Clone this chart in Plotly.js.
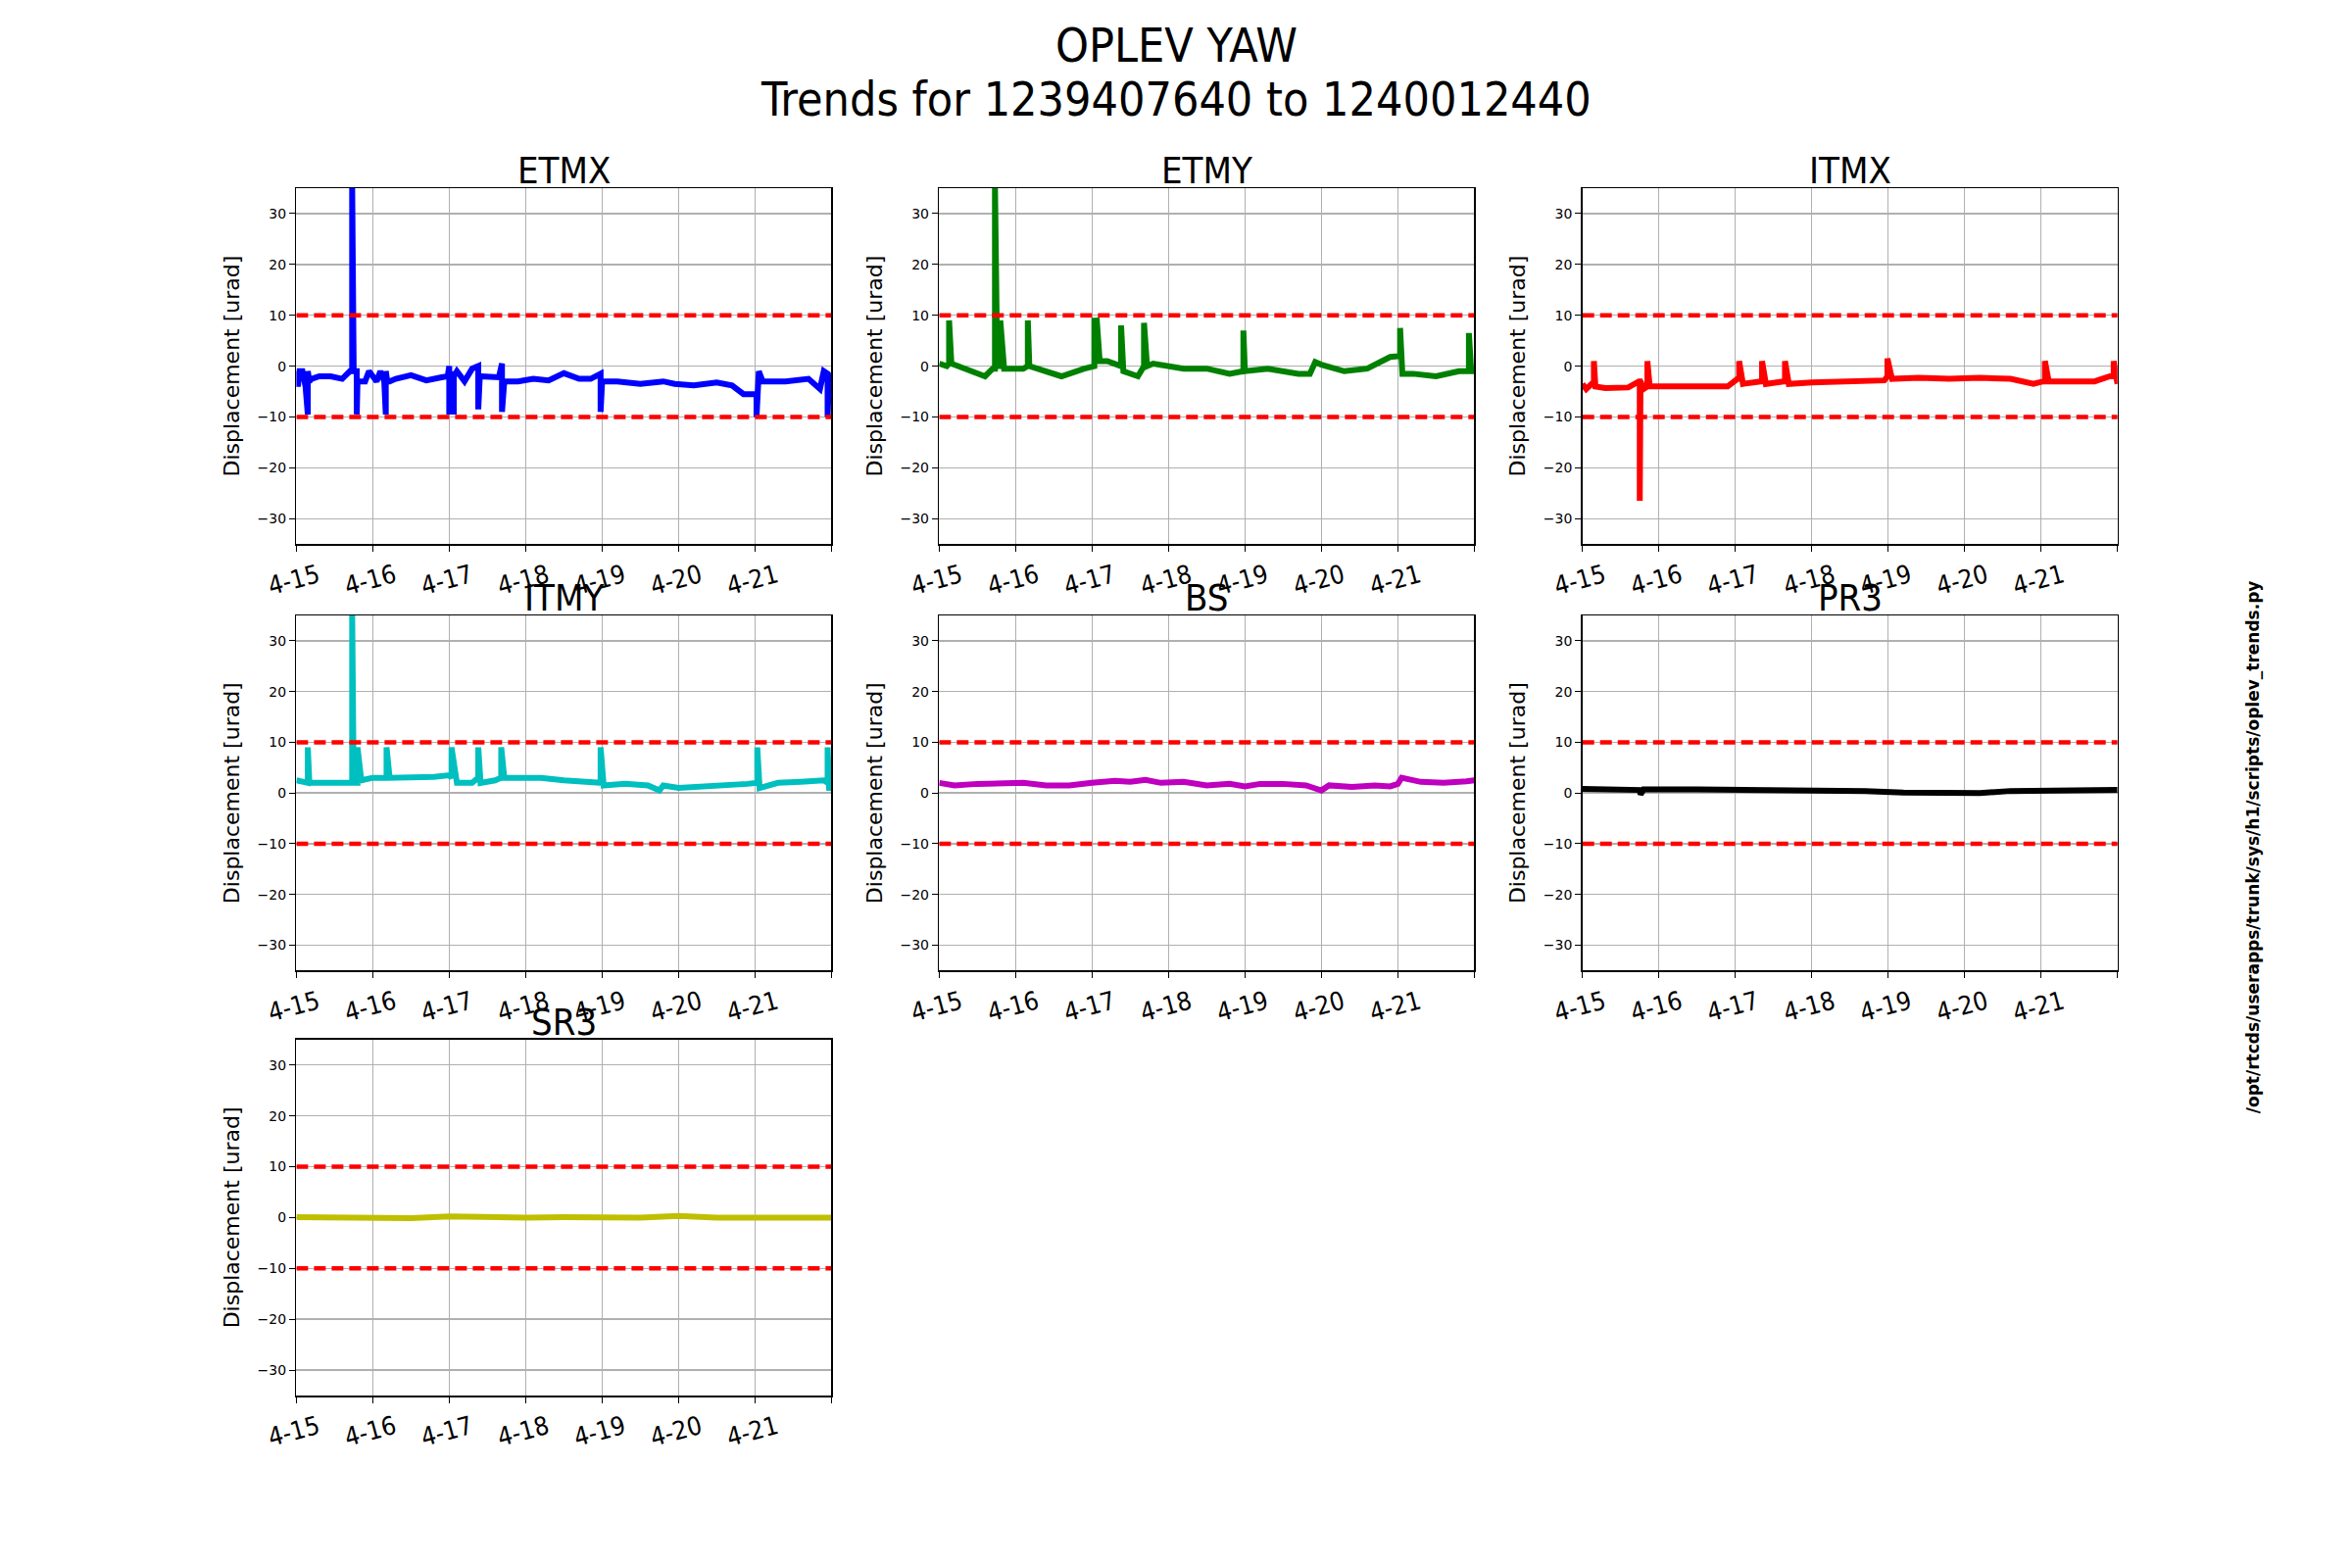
<!DOCTYPE html>
<html>
<head>
<meta charset="utf-8">
<script src="https://cdn.plot.ly/plotly-3.0.1.min.js"></script>
<style>
  html, body { margin: 0; padding: 0; background: #fff; }
  #chart { width: 2400px; height: 1600px; }
</style>
</head>
<body>
<div id="chart"></div>
<script>
// time in days since 4-15 00:00, values in urad
var dayTicks = [0, 1, 2, 3, 4, 5, 6, 7];
var dayLabels = ['4-15', '4-16', '4-17', '4-18', '4-19', '4-20', '4-21', ''];
var yTicks = [-30, -20, -10, 0, 10, 20, 30];
var thresholds = [10, -10];

var etmxT = [0,0.02,0.04,0.08,0.12,0.15,0.15,0.17,0.2,0.3,0.45,0.6,0.7,0.73,0.73,0.75,0.79,0.79,0.8,0.9,0.95,1.05,1.1,1.15,1.17,1.17,1.19,1.22,1.3,1.5,1.7,1.9,1.98,2.0,2.0,2.03,2.06,2.06,2.1,2.2,2.3,2.38,2.38,2.4,2.5,2.65,2.69,2.69,2.72,2.9,3.1,3.3,3.5,3.7,3.85,3.98,3.98,4.0,4.2,4.5,4.8,4.95,5.2,5.5,5.7,5.85,6.02,6.02,6.05,6.1,6.4,6.7,6.85,6.9,6.95,6.95,6.97,7.0];
var etmxV = [-1,-4,-1,-1,-4,-9.5,-1,-3,-2.5,-2,-2,-2.5,-1,-1,36,-1,-1,-9.5,-3,-3,-1,-3,-1,-3,-9.5,-1,-3,-3,-2.5,-1.8,-2.8,-2.2,-2,0,-9.5,-1,-9.5,-2,-1,-3,-0.5,0,-8.5,-2,-2,-2.2,0.5,-9,-3,-3,-2.5,-2.8,-1.4,-2.5,-2.5,-1.5,-9,-3,-3,-3.5,-3,-3.5,-3.8,-3.2,-3.8,-5.5,-5.5,-10,-1,-3,-3,-2.5,-4.5,-1,-1.5,-10,-1.5,-3];

var etmyT = [0,0.1,0.13,0.13,0.16,0.4,0.6,0.7,0.73,0.73,0.76,0.8,0.8,0.85,1.1,1.16,1.16,1.18,1.3,1.6,1.9,2.03,2.03,2.06,2.06,2.1,2.2,2.38,2.38,2.41,2.6,2.68,2.68,2.72,2.8,3.2,3.5,3.8,3.98,3.98,4.0,4.3,4.7,4.85,4.92,5.0,5.3,5.6,5.9,6.03,6.03,6.06,6.2,6.5,6.8,6.93,6.93,6.96,7.0];
var etmyV = [0.5,0,0.5,9,0.5,-1,-2,-0.5,-0.5,36,0,0,9,-0.5,-0.5,0,9,0,-0.5,-2,-0.5,0,9.5,1,9.5,1,1,0,8,-1,-2,0,8.5,0,0.5,-0.5,-0.5,-1.5,-1,7,-1,-0.5,-1.5,-1.5,0.8,0.3,-1,-0.5,1.8,2,7.5,-1.5,-1.5,-2,-1,-1,6.5,-1,-1];

var itmxT = [0,0.05,0.12,0.15,0.15,0.17,0.3,0.6,0.74,0.75,0.75,0.76,0.8,0.85,0.85,0.88,1.0,1.3,1.6,1.9,2.03,2.05,2.05,2.1,2.33,2.35,2.35,2.4,2.63,2.65,2.65,2.7,3.0,3.3,3.6,3.95,3.99,3.99,4.05,4.4,4.8,5.2,5.6,5.9,6.03,6.05,6.05,6.1,6.4,6.7,6.9,6.95,6.95,7.0];
var itmxV = [-3.5,-4.5,-3.5,-3.5,1,-4,-4.3,-4.2,-3,-3,-26.5,-3,-4.5,-4,1,-4,-4,-4,-3.8,-4,-2.5,-2.5,1,-3.5,-3,-3,1,-3.5,-3,-3,1,-3.5,-3.2,-3,-3,-2.8,-2,1.5,-2.5,-2.3,-2.5,-2.3,-2.5,-3.5,-3,-3,1,-3,-3,-3,-2,-2,1,-3.5];

var itmyT = [0,0.1,0.15,0.15,0.17,0.4,0.7,0.73,0.73,0.75,0.8,0.8,0.85,1.0,1.18,1.18,1.22,1.5,1.8,2.0,2.03,2.03,2.1,2.3,2.38,2.38,2.41,2.6,2.68,2.68,2.72,2.9,3.2,3.5,3.8,3.98,3.98,4.02,4.3,4.6,4.75,4.8,5.0,5.3,5.6,5.9,6.03,6.03,6.06,6.3,6.6,6.9,6.95,6.95,6.97,7.0];
var itmyV = [2.5,2,2,9,2,2,2,2,36,2,2,9,2.5,3,3,9,3,3,3.2,3.5,3,9,2,2,3,9,2,2.5,3,9,3,3,3,2.5,2.2,2,9,1.5,1.8,1.5,0.5,1.5,1,1.2,1.5,1.8,2,9,1,2,2.2,2.5,2,9,0.5,2.5];

var bsT = [0,0.2,0.5,0.8,1.1,1.4,1.7,2.0,2.3,2.5,2.7,2.9,3.2,3.5,3.8,4.0,4.2,4.5,4.8,4.9,5.0,5.1,5.4,5.7,5.9,6.0,6.05,6.3,6.6,6.9,7.0];
var bsV = [2,1.5,1.8,1.8,2,1.5,1.5,2,2.4,2.2,2.6,2,2.2,1.5,1.8,1.3,1.8,1.8,1.5,1,0.5,1.5,1.2,1.5,1.3,1.8,3,2.2,2,2.3,2.5];

var pr3T = [0,0.5,0.75,0.76,0.8,1.5,2.5,3.2,3.7,4.2,4.8,5.2,5.6,6.0,6.5,7.0];
var pr3V = [0.8,0.8,0.6,-0.3,0.7,0.7,0.6,0.5,0.4,0.1,0.1,0,0.4,0.5,0.7,0.6];

var sr3T = [0,0.5,1.0,1.5,2.0,2.5,3.0,3.5,4.0,4.5,5.0,5.5,6.0,6.5,7.0];
var sr3V = [0.1,0,0.1,-0.1,0.2,0,0,0.1,0.1,0,0.3,0,0,-0.1,0];

var names = ['ETMX', 'ETMY', 'ITMX', 'ITMY', 'BS', 'PR3', 'SR3'];
var colors = ['#0000ff', '#008000', '#ff0000', '#00bfbf', '#bf00bf', '#000000', '#bfbf00'];
var timesList = [etmxT, etmyT, itmxT, itmyT, bsT, pr3T, sr3T];
var valuesList = [etmxV, etmyV, itmxV, itmyV, bsV, pr3V, sr3V];

var xDomains = [[0.126, 0.3535], [0.3993, 0.6268], [0.6728, 0.9003]];
var yDomains = [[0.653, 0.88], [0.381, 0.6075], [0.11, 0.337]];

var data = [];
var layout = {
  width: 2400, height: 1600,
  margin: {l: 0, r: 0, t: 0, b: 0},
  paper_bgcolor: '#fff', plot_bgcolor: '#fff',
  showlegend: false,
  font: {family: 'DejaVu Sans', color: '#000'},
  annotations: [],
  shapes: []
};

// figure title, two lines
var titleFont = {size: 48, family: 'DejaVu Sans Condensed, DejaVu Sans'};
layout.annotations.push({
  text: 'OPLEV YAW', xref: 'paper', yref: 'paper', x: 0.5, y: 0.971,
  xanchor: 'center', yanchor: 'middle', showarrow: false, font: titleFont
});
layout.annotations.push({
  text: 'Trends for 1239407640 to 1240012440', xref: 'paper', yref: 'paper', x: 0.5, y: 0.937,
  xanchor: 'center', yanchor: 'middle', showarrow: false, font: titleFont
});
// script path on the right
layout.annotations.push({
  text: '<b>/opt/rtcds/userapps/trunk/sys/h1/scripts/oplev_trends.py</b>',
  xref: 'paper', yref: 'paper', x: 0.963, y: 0.46, textangle: -90,
  showarrow: false, font: {size: 17}
});

for (var i = 0; i < names.length; i++) {
  var row = Math.floor(i / 3), col = i % 3;
  var n = i + 1;
  var xa = 'x' + (n === 1 ? '' : n), ya = 'y' + (n === 1 ? '' : n);
  var xKey = 'xaxis' + (n === 1 ? '' : n), yKey = 'yaxis' + (n === 1 ? '' : n);

  data.push({
    x: timesList[i], y: valuesList[i], xaxis: xa, yaxis: ya,
    type: 'scatter', mode: 'lines',
    line: {color: colors[i], width: 6}
  });
  thresholds.forEach(function (th) {
    data.push({
      x: [0, 7], y: [th, th], xaxis: xa, yaxis: ya,
      type: 'scatter', mode: 'lines',
      line: {color: '#ff0000', width: 4.5, dash: '12px,6px'}
    });
  });

  layout[xKey] = {
    domain: xDomains[col], anchor: ya, range: [0, 7],
    tickvals: dayTicks, ticktext: dayLabels, tickangle: -15,
    tickfont: {size: 26, family: 'DejaVu Sans Condensed, DejaVu Sans'},
    ticklabelshift: 22, ticklabelstandoff: 0,
    ticks: 'outside', ticklen: 6, tickcolor: '#000',
    showgrid: true, gridcolor: '#b0b0b0', gridwidth: 1.5,
    showline: true, linecolor: '#000', linewidth: 1.5, mirror: true,
    zeroline: false
  };
  layout[yKey] = {
    domain: yDomains[row], anchor: xa, range: [-35, 35],
    tickvals: yTicks, ticktext: yTicks.map(function (v) { return v < 0 ? '\u2212' + (-v) : String(v); }),
    tickfont: {size: 14},
    ticks: 'outside', ticklen: 6, tickcolor: '#000',
    showgrid: true, gridcolor: '#b0b0b0', gridwidth: 1.5,
    showline: true, linecolor: '#000', linewidth: 1.5, mirror: true,
    zeroline: false,
    title: {text: 'Displacement [urad]', font: {size: 22}, standoff: 12}
  };
  layout.annotations.push({
    text: names[i], xref: 'paper', yref: 'paper',
    x: (xDomains[col][0] + xDomains[col][1]) / 2, y: yDomains[row][1] - 0.004,
    xanchor: 'center', yanchor: 'bottom', showarrow: false,
    font: {size: 38, family: 'DejaVu Sans Condensed, DejaVu Sans'}
  });
}

Plotly.newPlot('chart', data, layout, {staticPlot: true});
</script>
</body>
</html>
